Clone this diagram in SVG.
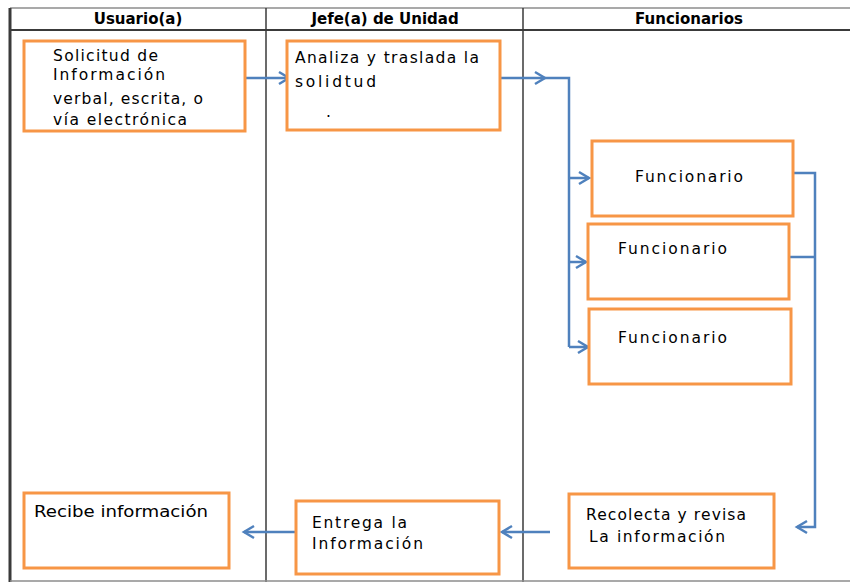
<svg xmlns="http://www.w3.org/2000/svg" width="850" height="583" viewBox="0 0 850 583">
<defs>
<style>
.tbl{stroke:#3a3a3a;stroke-width:1.5;fill:none}
.lite{stroke:#8c8c8c;stroke-width:1.5;fill:none}
.hdr{font-family:"DejaVu Sans",Verdana,sans-serif;font-weight:bold;font-size:15px;fill:#000;text-anchor:middle}
.box{fill:#fff;stroke:#F79646;stroke-width:3}
.t{font-family:"DejaVu Sans",Verdana,sans-serif;font-size:15.5px;fill:#000}
.c{stroke:#4F81BD;stroke-width:2.5;fill:none}
</style>
<marker id="ah" markerUnits="userSpaceOnUse" markerWidth="16" markerHeight="16" viewBox="-12 -8 14 16" refX="0" refY="0" orient="auto">
<path d="M-10,-6 L0,0 L-10,6" fill="none" stroke="#4F81BD" stroke-width="2.5"/>
</marker>
</defs>
<rect x="0" y="0" width="850" height="583" fill="#fff"/>
<g id="table">
<line class="lite" x1="10" y1="8" x2="850" y2="8"/>
<line class="tbl" x1="10" y1="30" x2="850" y2="30" style="stroke-width:2"/>
<line class="tbl" x1="10" y1="8" x2="10" y2="582" style="stroke-width:3"/>
<line class="tbl" x1="266" y1="8" x2="266" y2="582"/>
<line class="tbl" x1="523" y1="8" x2="523" y2="582"/>
<line class="lite" x1="10" y1="581" x2="850" y2="581"/>
<text class="hdr" x="138" y="24">Usuario(a)</text>
<text class="hdr" x="385" y="24">Jefe(a) de Unidad</text>
<text class="hdr" x="689" y="24">Funcionarios</text>
</g>
<g id="connectors">
<line class="c" x1="245" y1="78" x2="289" y2="78" marker-end="url(#ah)"/>
<line class="c" x1="500" y1="78" x2="545" y2="78" marker-end="url(#ah)"/>
<polyline class="c" points="545,78 569,78 569,347"/>
<line class="c" x1="569" y1="178" x2="589" y2="178" marker-end="url(#ah)"/>
<line class="c" x1="569" y1="262" x2="586" y2="262" marker-end="url(#ah)"/>
<line class="c" x1="569" y1="347" x2="588" y2="347" marker-end="url(#ah)"/>
<polyline class="c" points="793,173 815,173 815,527 797,527" marker-end="url(#ah)"/>
<line class="c" x1="789" y1="257" x2="815" y2="257"/>
<line class="c" x1="550" y1="532" x2="502" y2="532" marker-end="url(#ah)"/>
<line class="c" x1="295" y1="532" x2="244" y2="532" marker-end="url(#ah)"/>
</g>
<g id="solicitud">
<rect class="box" x="24" y="41" width="221" height="90"/>
<text class="t" x="53" y="61" textLength="105" lengthAdjust="spacing">Solicitud de</text>
<text class="t" x="53" y="80" textLength="112" lengthAdjust="spacing">Información</text>
<text class="t" x="53" y="104" textLength="150" lengthAdjust="spacing">verbal, escrita, o</text>
<text class="t" x="53" y="125" textLength="134" lengthAdjust="spacing">vía electrónica</text>
</g>
<g id="analiza">
<rect class="box" x="287" y="41" width="213" height="89"/>
<text class="t" x="295" y="63" textLength="184" lengthAdjust="spacing">Analiza y traslada la</text>
<text class="t" x="295" y="87" textLength="81" lengthAdjust="spacing">solidtud</text>
<text class="t" x="326" y="117">.</text>
</g>
<g id="funcionario1">
<rect class="box" x="592" y="141" width="201" height="75"/>
<text class="t" x="635" y="182" textLength="108" lengthAdjust="spacing">Funcionario</text>
</g>
<g id="funcionario2">
<rect class="box" x="588" y="224" width="201" height="75"/>
<text class="t" x="618" y="254" textLength="109" lengthAdjust="spacing">Funcionario</text>
</g>
<g id="funcionario3">
<rect class="box" x="589" y="309" width="202" height="75"/>
<text class="t" x="618" y="343" textLength="109" lengthAdjust="spacing">Funcionario</text>
</g>
<g id="recibe">
<rect class="box" x="24" y="493" width="205" height="75"/>
<text class="t" x="34" y="517" textLength="174" lengthAdjust="spacingAndGlyphs">Recibe información</text>
</g>
<g id="entrega">
<rect class="box" x="296" y="501" width="203" height="73"/>
<text class="t" x="312" y="528" textLength="95" lengthAdjust="spacing">Entrega la</text>
<text class="t" x="312" y="549" textLength="111" lengthAdjust="spacing">Información</text>
</g>
<g id="recolecta">
<rect class="box" x="569" y="494" width="205" height="74"/>
<text class="t" x="586" y="520" textLength="160" lengthAdjust="spacing">Recolecta y revisa</text>
<text class="t" x="589" y="542" textLength="136" lengthAdjust="spacing">La información</text>
</g>
</svg>
